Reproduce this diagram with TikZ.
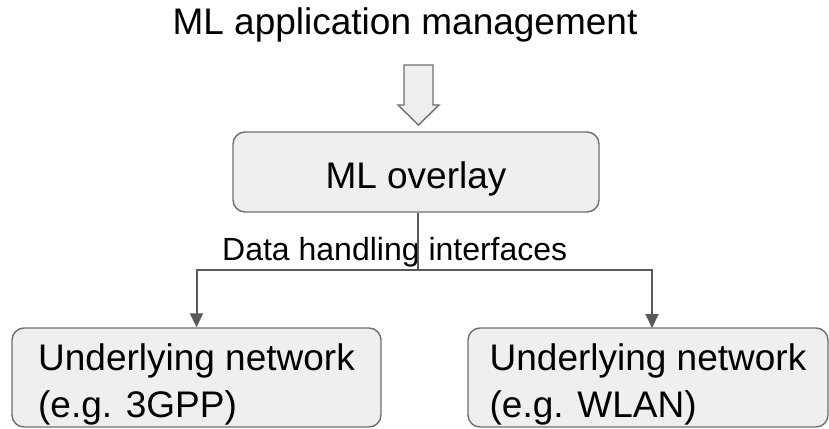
\documentclass[tikz,border=0pt]{standalone}
\usepackage{fontspec}
\setmainfont{Liberation Sans}
\usetikzlibrary{arrows.meta}
\definecolor{boxfill}{HTML}{EFEFEF}
\definecolor{boxline}{HTML}{6E6E6E}
\definecolor{wire}{HTML}{595959}
% two left-aligned lines, set a little below the centre of their box
\newcommand\twolines[2]{\raisebox{-6.6pt}[\height][\depth]{\begin{tabular}{@{}l@{}}#1\\#2\end{tabular}}}
\begin{document}
\begin{tikzpicture}[x=1pt,y=-1pt,
  box/.style={draw=boxline, fill=boxfill, line width=1.4pt, rounded corners=12pt},
  bigtext/.style={font=\fontsize{37}{47}\selectfont},
  wireline/.style={draw=wire, line width=2pt},
  wirearrow/.style={wireline, -{Triangle[length=14pt,width=13pt]}}]
  \useasboundingbox (0,0) rectangle (829,428);

  % title
  \node[bigtext, anchor=base, inner sep=0pt] (title) at (405,35) {ML application management};

  % overlay box
  \node[box, bigtext, minimum width=366pt, minimum height=80pt, inner sep=0pt,
        text height=32pt, text depth=0pt] (ovl) at (416,172) {ML overlay};

  % hollow block arrow from the title to the overlay
  \draw[fill=boxfill, draw=boxline, line width=1.4pt]
    (404,65) -- (433,65) -- (433,105) -- (439,105) -- (418.5,125)
    -- (398,105) -- (404,105) -- cycle;

  % underlying networks
  \node[box, bigtext, minimum width=369pt, minimum height=99pt, inner sep=0pt]
        (netA) at (196.5,377.5) {\twolines{Underlying network}{(e.g. 3GPP)}};
  \node[box, bigtext, minimum width=360pt, minimum height=99pt, inner sep=0pt]
        (netB) at (648,377.5) {\twolines{Underlying network}{(e.g. WLAN)}};

  % interface label
  \node[font=\fontsize{32}{36}\selectfont, anchor=base west, inner sep=0pt] (dhi) at (222,260.5)
        {Data handling interfaces};

  % connectors
  \coordinate (split) at (418,270);
  \coordinate (bdrop) at (652,328);
  \draw[wireline] (split |- ovl.south) -- (split);
  \draw[wirearrow] (split) -| (netA.north);
  \draw[wirearrow] (split) -| (bdrop);
\end{tikzpicture}
\end{document}
